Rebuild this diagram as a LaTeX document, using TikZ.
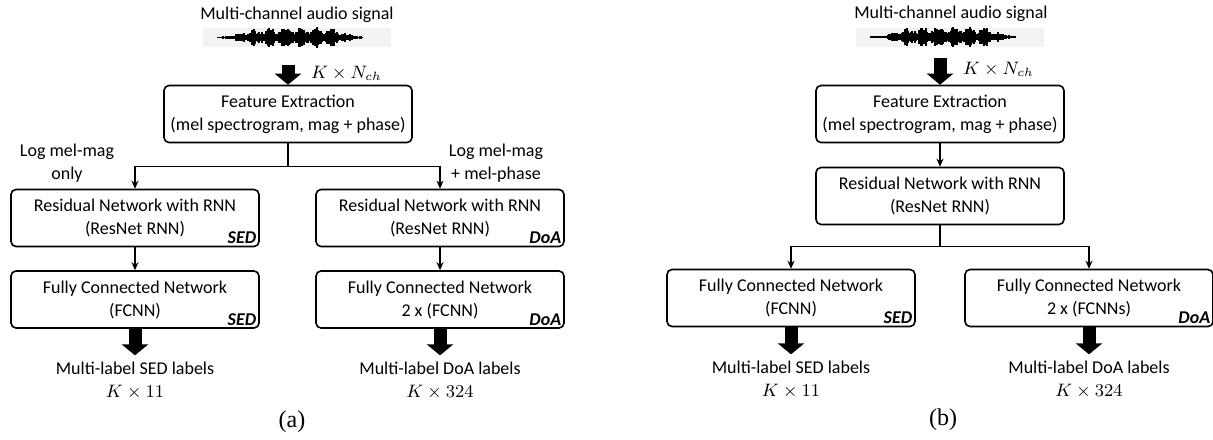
\documentclass[tikz,border=0pt]{standalone}
\usepackage{fontspec}
\setmainfont{Carlito}
\newfontfamily\capfont{Liberation Serif}
\usetikzlibrary{arrows.meta,positioning}

% little audio waveform, drawn round the origin of the current scope
\newcommand{\audiowave}{%
  \pgfmathsetseed{23}%
  \draw[line width=0.8pt] (-80,0) -- (66,0);
  \foreach \k in {-76,-75,...,64}{%
    \pgfmathsetmacro\wavet{(\k+3)/54}%
    \pgfmathsetmacro\waveenv{1.2+9.5*exp(-\wavet*\wavet*\wavet*\wavet*\wavet*\wavet)*(0.75+0.25*sin(\k*23))}%
    \pgfmathsetmacro\waveamp{\waveenv*(0.4+0.6*rnd)}%
    \draw[line width=0.6pt] (\k,-\waveamp) -- (\k,\waveamp);
  }%
}

\begin{document}
\begin{tikzpicture}[x=0.5pt,y=-0.5pt,
    every node/.style={font=\fontsize{9}{11.5}\selectfont},
    block/.style={draw=black,line width=0.8pt,rounded corners=2.5pt,align=center,
      minimum width=124pt,minimum height=28.5pt,inner sep=2pt},
    tag/.style={font=\fontsize{9}{10}\selectfont\bfseries\itshape,anchor=south east,inner sep=1.6pt},
    note/.style={align=center},
    wavebg/.style={fill=black!5,minimum width=94pt,minimum height=9.5pt,inner sep=0pt},
    thinarrow/.style={line width=0.6pt,-{Stealth[length=4pt,width=3.5pt]}},
    bigarrow/.style={line width=6.5pt,-{Triangle[length=5.5pt,width=13pt]}}]
  \useasboundingbox (0,0) rectangle (1213,439);

  % ---- (a) separate networks
  \node (titleA) at (297,15) {Multi-channel audio signal};
  \node[wavebg] (wavA) at (297,37.5) {};
  \begin{scope}[shift={(wavA.center)}]
    \audiowave
  \end{scope}
  \node[block] (featA) at (288,114) {Feature Extraction\\(mel spectrogram, mag + phase)};
  \node[anchor=west] (chA) at (304,73) {$K\times N_{ch}$};

  \node[block] (resSed) at (135,218) {Residual Network with RNN\\(ResNet RNN)};
  \node[tag] at (resSed.south east) {SED};
  \node[block] (resDoa) at (440,218) {Residual Network with RNN\\(ResNet RNN)};
  \node[tag] at (resDoa.south east) {DoA};

  \node[block] (fcSed) at (135,299.5) {Fully Connected Network\\(FCNN)};
  \node[tag] at (fcSed.south east) {SED};
  \node[block] (fcDoa) at (440,299.5) {Fully Connected Network\\2 x (FCNN)};
  \node[tag] at (fcDoa.south east) {DoA};

  \node[note] (inSed) at (67,163) {Log mel-mag\\only};
  \node[note] (inDoa) at (496,163) {Log mel-mag\\+ mel-phase};

  \node[note] (outSed) at (135,381) {Multi-label SED labels\\$K\times 11$};
  \node[note] (outDoa) at (440,381) {Multi-label DoA labels\\$K\times 324$};

  \node (capA) at (292,422) {\fontsize{12}{14}\selectfont\capfont (a)};

  \draw[bigarrow,shorten <=9pt] (wavA.south -| featA.north) -- (featA.north);
  \draw[thinarrow] (featA.south) -- ++(0,23) -| (resSed.north);
  \draw[thinarrow] (featA.south) -- ++(0,23) -| (resDoa.north);
  \draw[thinarrow] (resSed) -- (fcSed);
  \draw[thinarrow] (resDoa) -- (fcDoa);
  \draw[bigarrow] (fcSed.south) -- (outSed.north);
  \draw[bigarrow] (fcDoa.south) -- (outDoa.north);

  % ---- (b) shared network
  \node (titleB) at (951,14) {Multi-channel audio signal};
  \node[wavebg] (wavB) at (950,37) {};
  \begin{scope}[shift={(wavB.center)}]
    \audiowave
  \end{scope}
  \node[block] (featB) at (940,114) {Feature Extraction\\(mel spectrogram, mag + phase)};
  \node[anchor=west] (chB) at (956,69) {$K\times N_{ch}$};

  \node[block] (resB) at (940,196) {Residual Network with RNN\\(ResNet RNN)};

  \node[block] (fcSedB) at (791,298) {Fully Connected Network\\(FCNN)};
  \node[tag] at (fcSedB.south east) {SED};
  \node[block] (fcDoaB) at (1089,298) {Fully Connected Network\\2 x (FCNNs)};
  \node[tag] at (fcDoaB.south east) {DoA};

  \node[note] (outSedB) at (791,380) {Multi-label SED labels\\$K\times 11$};
  \node[note] (outDoaB) at (1089,380) {Multi-label DoA labels\\$K\times 324$};

  \node (capB) at (943,420) {\fontsize{12}{14}\selectfont\capfont (b)};

  \draw[bigarrow,shorten <=5.5pt] (wavB.south -| featB.north) -- (featB.north);
  \draw[thinarrow] (featB) -- (resB);
  \draw[thinarrow] (resB.south) -- ++(0,21) -| (fcSedB.north);
  \draw[thinarrow] (resB.south) -- ++(0,21) -| (fcDoaB.north);
  \draw[bigarrow] (fcSedB.south) -- (outSedB.north);
  \draw[bigarrow] (fcDoaB.south) -- (outDoaB.north);
\end{tikzpicture}
\end{document}
